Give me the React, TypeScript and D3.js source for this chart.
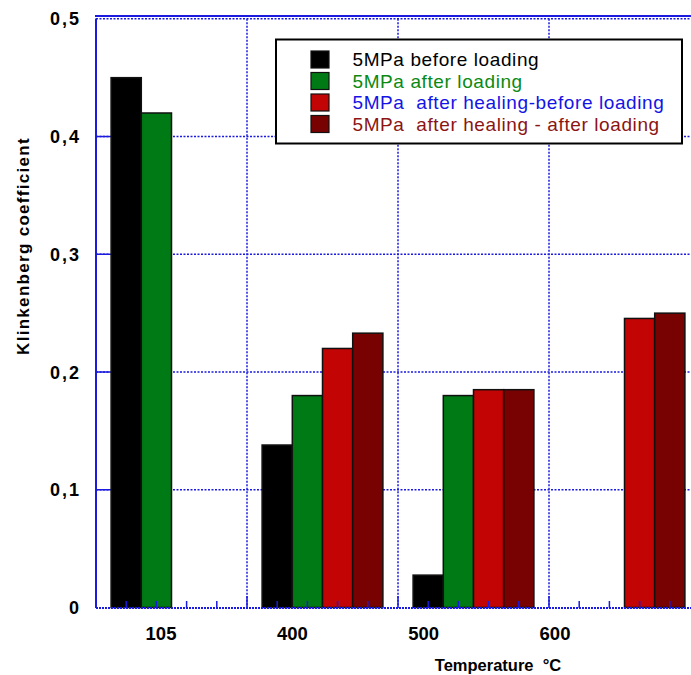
import React from "react";
import * as d3 from "d3";

const categories = ["105", "400", "500", "600"];
const seriesNames = [
  "5MPa before loading",
  "5MPa after loading",
  "5MPa  after healing-before loading",
  "5MPa  after healing - after loading",
];
const beforeLoading = [0.45, 0.138, 0.0275, null];
const afterLoading = [0.42, 0.18, 0.18, null];
const healingBefore = [null, 0.22, 0.185, 0.2455];
const healingAfter = [null, 0.233, 0.185, 0.25];
const barColors = ["#000000", "#007a14", "#c20404", "#780202"];
const legendTextColors = ["#000000", "#0a8a14", "#1414e6", "#8c1414"];
const yTickValues = [0, 0.1, 0.2, 0.3, 0.4, 0.5];
const yTickLabels = ["0", "0,1", "0,2", "0,3", "0,4", "0,5"];

const W = 691;
const H = 675;
const BLUE = "#1a1ae0";

export default function App() {
  const series = [beforeLoading, afterLoading, healingBefore, healingAfter];
  const x0 = d3.scaleBand<string>().domain(categories).range([96, 700]).padding(0);
  const bw = x0.bandwidth();
  const x1 = d3
    .scaleBand<number>()
    .domain(d3.range(series.length))
    .range([0.1 * bw, 0.9 * bw])
    .padding(0);
  const y = d3.scaleLinear().domain([0, 0.5]).range([607.5, 18.8]);
  const labelX = d3.scalePoint<string>().domain(categories).range([161, 555]);
  const font = "Arial, 'Liberation Sans', Helvetica, sans-serif";

  const bars: any[] = [];
  categories.forEach((c, ci) => {
    series.forEach((s, si) => {
      const v = s[ci];
      if (v == null) return;
      bars.push({ c, si, v });
    });
  });

  const minorTicks: number[] = [];
  categories.forEach((c) => {
    for (let i = 0; i < series.length; i++) {
      minorTicks.push((x0(c) as number) + (x1(i) as number) + x1.bandwidth() / 2);
    }
  });
  const boundaries = categories.slice(1).map((c) => x0(c) as number);

  return (
    <svg
      width={W}
      height={H}
      style={{ position: "absolute", left: 0, top: 0, background: "#fff" }}
      fontFamily={font}
    >
      <rect x={0} y={0} width={W} height={H} fill="#fff" />
      {yTickValues.slice(1).map((t) => (
        <line
          key={"hg" + t}
          x1={96}
          x2={W}
          y1={y(t)}
          y2={y(t)}
          stroke={BLUE}
          strokeWidth={1.5}
          strokeDasharray="2 1.5"
        />
      ))}
      {boundaries.map((b) => (
        <line
          key={"vg" + b}
          x1={b}
          x2={b}
          y1={y(0.5)}
          y2={y(0)}
          stroke={BLUE}
          strokeWidth={1.5}
          strokeDasharray="2 1.5"
        />
      ))}
      <line x1={95} x2={W} y1={16} y2={16} stroke={BLUE} strokeWidth={2} />
      {bars.map((b, i) => {
        const bx = (x0(b.c) as number) + (x1(b.si) as number);
        return (
          <rect
            key={i}
            x={bx}
            y={y(b.v)}
            width={x1.bandwidth()}
            height={y(0) - y(b.v)}
            fill={barColors[b.si]}
            stroke="#111"
            strokeWidth={1.5}
          />
        );
      })}
      <line x1={96} x2={96} y1={18.5} y2={608} stroke={BLUE} strokeWidth={2} />
      {yTickValues.slice(1, 5).map((t) => (
        <line key={"yt" + t} x1={96} x2={110} y1={y(t)} y2={y(t)} stroke={BLUE} strokeWidth={1.5} />
      ))}
      <line x1={96} x2={W} y1={608} y2={608} stroke={BLUE} strokeWidth={2} strokeDasharray="2 1" />
      {minorTicks.map((m, i) => (
        <line key={"mt" + i} x1={m} x2={m} y1={601} y2={608} stroke={BLUE} strokeWidth={1.5} />
      ))}
      {boundaries.map((b) => (
        <line key={"bt" + b} x1={b} x2={b} y1={596} y2={608} stroke={BLUE} strokeWidth={1.5} />
      ))}
      {yTickValues.map((t, i) => (
        <text
          key={"yl" + t}
          x={81}
          y={y(t) + 6.5}
          textAnchor="end"
          fontSize={18}
          fontWeight="bold"
          letterSpacing={2}
          fill="#000"
        >
          {yTickLabels[i]}
        </text>
      ))}
      {categories.map((c) => (
        <text
          key={"xl" + c}
          x={labelX(c)}
          y={639.5}
          textAnchor="middle"
          fontSize={18.5}
          fontWeight="bold"
          fill="#000"
        >
          {c}
        </text>
      ))}
      <text
        x={498}
        y={671}
        textAnchor="middle"
        fontSize={16.5}
        fontWeight="bold"
        style={{ whiteSpace: "pre" }}
      >
        {"Temperature  °C"}
      </text>
      <text
        transform="translate(29,246) rotate(-90)"
        textAnchor="middle"
        fontSize={17}
        fontWeight="bold"
        letterSpacing={1.3}
      >
        Klinkenberg coefficient
      </text>
      <rect x={276} y={39.5} width={406} height={104} fill="#fff" stroke="#000" strokeWidth={2} />
      {seriesNames.map((n, i) => {
        const cy = 59.5 + i * 21.5;
        return (
          <g key={"lg" + i}>
            <rect
              x={311}
              y={cy - 8.5}
              width={18}
              height={17}
              fill={barColors[i]}
              stroke="#111"
              strokeWidth={1.2}
            />
            <text
              x={352.5}
              y={cy + 6.5}
              fontSize={19}
              letterSpacing={0.6}
              fill={legendTextColors[i]}
              style={{ whiteSpace: "pre" }}
            >
              {n}
            </text>
          </g>
        );
      })}
    </svg>
  );
}
